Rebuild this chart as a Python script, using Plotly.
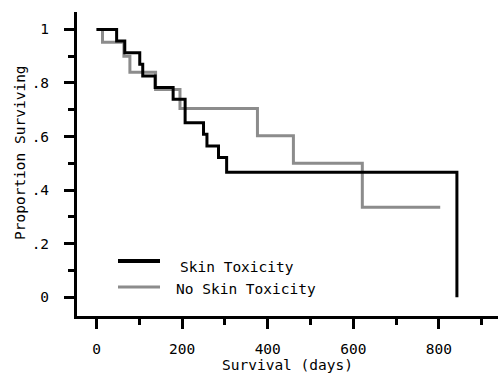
import plotly.graph_objects as go

# Kaplan-Meier step data
skin_days = [0, 47, 66, 101, 108, 137, 179, 207, 250, 258, 285, 304, 842]
skin_surv = [1.0, 0.957, 0.913, 0.870, 0.826, 0.783, 0.739, 0.652, 0.609, 0.565, 0.522, 0.467, 0.0]

noskin_days = [0, 14, 64, 78, 138, 195, 376, 460, 621, 803]
noskin_surv = [1.0, 0.952, 0.900, 0.840, 0.776, 0.705, 0.603, 0.500, 0.336, 0.336]

x_tickvals = [0, 200, 400, 600, 800]
x_ticktext = ["0", "200", "400", "600", "800"]
x_minorvals = [100, 300, 500, 700, 900]
y_tickvals = [0, 0.2, 0.4, 0.6, 0.8, 1.0]
y_ticktext = ["0", ".2", ".4", ".6", ".8", "1"]
y_minorvals = [0.1, 0.3, 0.5, 0.7, 0.9]

series_names = ["Skin Toxicity", "No Skin Toxicity"]
BLACK = "#000000"
GRAY = "#8c8c8c"
FONT = "DejaVu Sans Mono"
FS = 14.5

fig = go.Figure()
fig.add_trace(go.Scatter(x=noskin_days, y=noskin_surv, mode="lines",
                         line=dict(shape="hv", color=GRAY, width=3),
                         name=series_names[1], showlegend=False))
fig.add_trace(go.Scatter(x=skin_days, y=skin_surv, mode="lines",
                         line=dict(shape="hv", color=BLACK, width=3),
                         name=series_names[0], showlegend=False))

L, T, B, R = 77, 12, 62, 0
W, H = 498, 378
pw, ph = W - L - R, H - T - B

def px2paper(x, y):
    return (x - L) / pw, (H - B - y) / ph

# manual legend
for i, (col, yy, lw) in enumerate([(BLACK, 261, 4), (GRAY, 287, 3)]):
    x0, y0 = px2paper(118, yy)
    x1, _ = px2paper(160, yy)
    fig.add_shape(type="line", xref="paper", yref="paper", x0=x0, x1=x1, y0=y0, y1=y0,
                  line=dict(color=col, width=lw))
lx0, ly0 = px2paper(178, 267)
lx1, ly1 = px2paper(174, 289)
fig.add_annotation(text=series_names[0], xref="paper", yref="paper", x=lx0, y=ly0,
                   xanchor="left", yanchor="middle", showarrow=False,
                   font=dict(family=FONT, size=FS, color="black"))
fig.add_annotation(text=series_names[1], xref="paper", yref="paper", x=lx1, y=ly1,
                   xanchor="left", yanchor="middle", showarrow=False,
                   font=dict(family=FONT, size=FS, color="black"))

# y title
tx, ty = px2paper(20, 153)
fig.add_annotation(text="Proportion Surviving", xref="paper", yref="paper", x=tx, y=ty,
                   xanchor="center", yanchor="middle", textangle=-90, showarrow=False,
                   font=dict(family=FONT, size=FS, color="black"))

fig.update_layout(
    width=W, height=H,
    margin=dict(l=L, r=R, t=T, b=B),
    paper_bgcolor="white", plot_bgcolor="white",
    font=dict(family=FONT, size=FS, color="black"),
    showlegend=False,
)
fig.update_xaxes(
    range=[-45.6, 938], showgrid=False, zeroline=False,
    showline=True, linecolor="black", linewidth=3,
    ticks="outside", ticklen=10, tickwidth=3, tickcolor="black",
    tickmode="array", tickvals=x_tickvals, ticktext=x_ticktext,
    ticklabelstandoff=8,
    minor=dict(tickmode="array", tickvals=x_minorvals, ticks="outside",
               ticklen=6, tickwidth=3, tickcolor="black", showgrid=False),
    title=dict(text="Survival (days)", standoff=4,
               font=dict(family=FONT, size=FS, color="black")),
)
fig.update_yaxes(
    range=[-0.0698, 1.065], showgrid=False, zeroline=False,
    showline=True, linecolor="black", linewidth=3,
    ticks="outside", ticklen=10, tickwidth=3, tickcolor="black",
    tickmode="array", tickvals=y_tickvals, ticktext=y_ticktext,
    ticklabelstandoff=12,
    minor=dict(tickmode="array", tickvals=y_minorvals, ticks="outside",
               ticklen=6, tickwidth=3, tickcolor="black", showgrid=False),
)

fig.write_html("out.html", config={"displayModeBar": False},
               post_script="document.body.style.margin='0';")
